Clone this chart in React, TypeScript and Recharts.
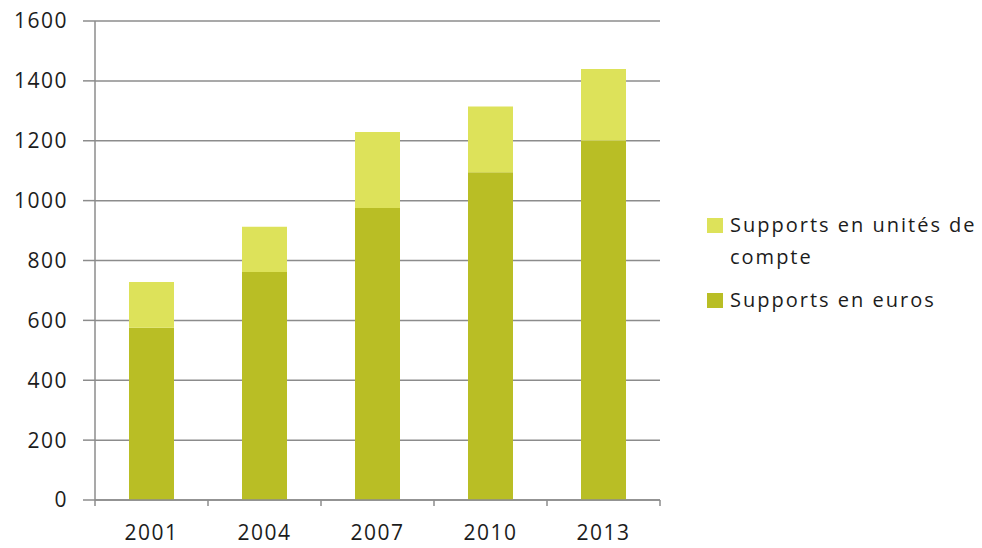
import { Bar, BarChart, CartesianGrid, Legend, XAxis, YAxis } from "recharts"

const YEARS = ["2001", "2004", "2007", "2010", "2013"]
const EUROS = [575, 762, 975, 1095, 1200]
const UNITES = [153, 151, 254, 219, 240]
const Y_TICKS = [0, 200, 400, 600, 800, 1000, 1200, 1400, 1600]

const SERIES = [
  { key: "unites", label: "Supports en unités de compte", color: "#dde25a" },
  { key: "euros", label: "Supports en euros", color: "#b9be25" },
]

const FONT = "'Open Sans', sans-serif"
const GRID = "#8c8c8c"
const TEXT = "#1c1c1c"

const data = YEARS.map((year, i) => ({ year, euros: EUROS[i], unites: UNITES[i] }))

function YearTick(props: any) {
  const { x, y, payload, index, visibleTicksCount, width } = props
  const count = visibleTicksCount || YEARS.length
  const band = (width || 565) / count
  const left = x - band / 2
  return (
    <g>
      <line x1={left} x2={left} y1={y} y2={y + 6} stroke={GRID} strokeWidth={1.5} />
      {index === count - 1 && (
        <line x1={x + band / 2} x2={x + band / 2} y1={y} y2={y + 6} stroke={GRID} strokeWidth={1.5} />
      )}
      <text
        x={x}
        y={y + 40}
        textAnchor="middle"
        fontFamily={FONT}
        fontSize={21}
        letterSpacing={1.5}
        fill={TEXT}
      >
        {payload.value}
      </text>
    </g>
  )
}

function LegendBox() {
  return (
    <div style={{ fontFamily: FONT, fontSize: 20, letterSpacing: 2, color: TEXT, lineHeight: "32px" }}>
      {SERIES.map((s, i) => (
        <div key={s.key} style={{ display: "flex", alignItems: "flex-start", marginBottom: i === 0 ? 11 : 0 }}>
          <span
            style={{
              display: "inline-block",
              width: 16,
              height: 15,
              background: s.color,
              marginTop: 9,
              marginRight: 7,
              flex: "none",
            }}
          />
          <span style={{ width: 250 }}>{s.label}</span>
        </div>
      ))}
    </div>
  )
}

export default function App() {
  return (
    <div style={{ position: "absolute", left: 0, top: 0, background: "#fff" }}>
      <BarChart
        width={982}
        height={548}
        data={data}
        margin={{ top: 21, right: 322, bottom: 0, left: 0 }}
      >
        <CartesianGrid vertical={false} stroke={GRID} strokeWidth={1.5} />
        <XAxis
          dataKey="year"
          axisLine={{ stroke: GRID, strokeWidth: 1.5 }}
          tickLine={false}
          tickSize={0}
          tickMargin={0}
          height={48}
          interval={0}
          tick={<YearTick />}
        />
        <YAxis
          domain={[0, 1600]}
          ticks={Y_TICKS}
          interval={0}
          width={95}
          axisLine={{ stroke: GRID, strokeWidth: 1.5 }}
          tickLine={{ stroke: GRID, strokeWidth: 1.5 }}
          tickSize={12}
          tickMargin={15}
          tick={{ fontFamily: FONT, fontSize: 21, fill: TEXT, letterSpacing: 1.5 }}
        />
        <Legend
          layout="horizontal"
          verticalAlign="middle"
          align="center"
          content={<LegendBox />}
          wrapperStyle={{ left: 707, top: 209, width: 275 }}
        />
        <Bar dataKey="euros" stackId="a" fill={SERIES[1].color} barSize={45} isAnimationActive={false} />
        <Bar dataKey="unites" stackId="a" fill={SERIES[0].color} barSize={45} isAnimationActive={false} />
      </BarChart>
    </div>
  )
}
